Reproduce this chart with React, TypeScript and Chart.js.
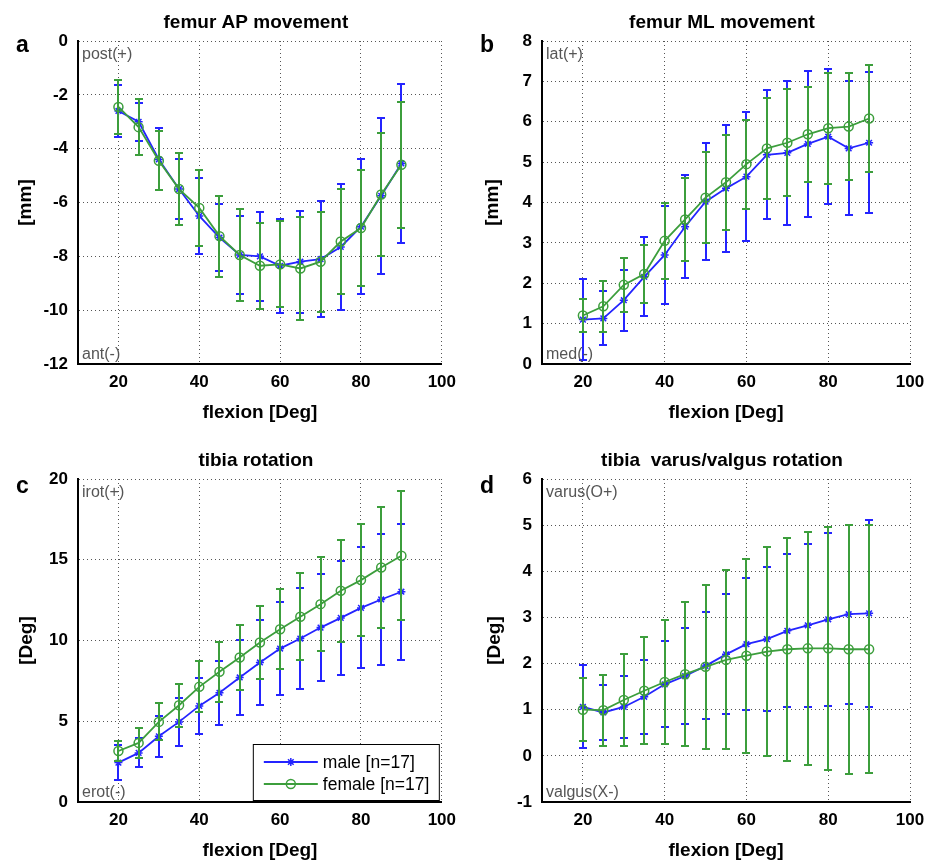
import React, { useEffect, useRef } from 'react';
import { Chart, registerables } from 'chart.js';

Chart.register(...registerables);

// ---------- data ----------
const FLEXION = [20, 25, 30, 35, 40, 45, 50, 55, 60, 65, 70, 75, 80, 85, 90];
const X_TICKS = [20, 40, 60, 80, 100];

const AP_TICKS = [-12, -10, -8, -6, -4, -2, 0];
const AP_MALE = [-2.6, -3.0, -4.4, -5.5, -6.5, -7.3, -7.95, -8.0, -8.35, -8.2, -8.1, -7.65, -6.9, -5.75, -4.55];
const AP_MALE_SD = [0.95, 0.7, 1.15, 1.1, 1.4, 1.25, 1.45, 1.65, 1.75, 1.9, 2.15, 2.35, 2.5, 2.9, 2.95];
const AP_FEMALE = [-2.45, -3.2, -4.45, -5.5, -6.2, -7.25, -7.95, -8.35, -8.3, -8.45, -8.2, -7.45, -6.95, -5.7, -4.6];
const AP_FEMALE_SD = [1.0, 1.05, 1.1, 1.35, 1.4, 1.5, 1.7, 1.6, 1.6, 1.9, 1.85, 1.95, 2.15, 2.3, 2.35];

const ML_TICKS = [0, 1, 2, 3, 4, 5, 6, 7, 8];
const ML_MALE = [1.1, 1.13, 1.58, 2.16, 2.7, 3.4, 4.02, 4.35, 4.64, 5.18, 5.23, 5.45, 5.63, 5.34, 5.48];
const ML_MALE_SD = [1.0, 0.67, 0.76, 0.98, 1.22, 1.28, 1.45, 1.57, 1.6, 1.6, 1.78, 1.8, 1.67, 1.66, 1.75];
const ML_FEMALE = [1.2, 1.43, 1.96, 2.23, 3.05, 3.58, 4.12, 4.5, 4.95, 5.34, 5.48, 5.69, 5.84, 5.88, 6.08];
const ML_FEMALE_SD = [0.4, 0.63, 0.66, 0.72, 0.95, 1.02, 1.12, 1.17, 1.1, 1.25, 1.32, 1.18, 1.37, 1.32, 1.33];

const ROT_TICKS = [0, 5, 10, 15, 20];
const ROT_MALE = [2.44, 3.04, 4.07, 4.96, 5.95, 6.76, 7.71, 8.64, 9.5, 10.12, 10.8, 11.4, 12.02, 12.54, 13.02];
const ROT_MALE_SD = [1.1, 0.9, 1.27, 1.5, 1.75, 2.0, 2.3, 2.65, 2.9, 3.1, 3.3, 3.55, 3.75, 4.05, 4.2];
const ROT_FEMALE = [3.16, 3.66, 4.96, 5.99, 7.13, 8.06, 8.95, 9.88, 10.7, 11.47, 12.25, 13.08, 13.74, 14.52, 15.25];
const ROT_FEMALE_SD = [0.6, 0.95, 1.15, 1.33, 1.58, 1.85, 2.03, 2.27, 2.48, 2.7, 2.92, 3.16, 3.49, 3.74, 4.0];

const VV_TICKS = [-1, 0, 1, 2, 3, 4, 5, 6];
const VV_MALE = [1.06, 0.94, 1.06, 1.28, 1.55, 1.73, 1.95, 2.2, 2.42, 2.53, 2.71, 2.83, 2.96, 3.07, 3.09];
const VV_MALE_SD = [0.9, 0.6, 0.68, 0.8, 0.93, 1.05, 1.16, 1.3, 1.43, 1.56, 1.66, 1.77, 1.88, 1.94, 2.03];
const VV_FEMALE = [1.0, 0.99, 1.21, 1.41, 1.6, 1.77, 1.93, 2.08, 2.17, 2.26, 2.31, 2.33, 2.33, 2.31, 2.31];
const VV_FEMALE_SD = [0.68, 0.77, 0.99, 1.16, 1.34, 1.56, 1.78, 1.94, 2.1, 2.26, 2.42, 2.53, 2.64, 2.7, 2.69];

const LEGEND_LABELS = ['male [n=17]', 'female [n=17]'];
const X_LABEL = 'flexion [Deg]';

// ---------- style ----------
const FONT = "'Liberation Sans', Arial, Helvetica, sans-serif";
const BLUE = '#2424ff';
const GREEN = '#3c9e3c';

type Spec = {
  letter: string; title: string; ylabel: string; yticks: number[];
  topNote: string; bottomNote: string;
  male: number[]; maleSd: number[]; female: number[]; femaleSd: number[];
  legend: boolean; left: number; top: number; width: number; height: number;
  yTitleX: number; letterDy: number;
};

const PANELS: Spec[] = [
  { letter: 'a', title: 'femur AP movement', ylabel: '[mm]', yticks: AP_TICKS, topNote: 'post(+)', bottomNote: 'ant(-)',
    male: AP_MALE, maleSd: AP_MALE_SD, female: AP_FEMALE, femaleSd: AP_FEMALE_SD, legend: false,
    left: 0, top: 0, width: 464, height: 438, yTitleX: 26, letterDy: 11 },
  { letter: 'b', title: 'femur ML movement', ylabel: '[mm]', yticks: ML_TICKS, topNote: 'lat(+)', bottomNote: 'med(-)',
    male: ML_MALE, maleSd: ML_MALE_SD, female: ML_FEMALE, femaleSd: ML_FEMALE_SD, legend: false,
    left: 464, top: 0, width: 470, height: 438, yTitleX: 29, letterDy: 11 },
  { letter: 'c', title: 'tibia rotation', ylabel: '[Deg]', yticks: ROT_TICKS, topNote: 'irot(+)', bottomNote: 'erot(-)',
    male: ROT_MALE, maleSd: ROT_MALE_SD, female: ROT_FEMALE, femaleSd: ROT_FEMALE_SD, legend: true,
    left: 0, top: 438, width: 464, height: 424, yTitleX: 27, letterDy: 14 },
  { letter: 'd', title: 'tibia  varus/valgus rotation', ylabel: '[Deg]', yticks: VV_TICKS, topNote: 'varus(O+)', bottomNote: 'valgus(X-)',
    male: VV_MALE, maleSd: VV_MALE_SD, female: VV_FEMALE, femaleSd: VV_FEMALE_SD, legend: false,
    left: 464, top: 438, width: 470, height: 424, yTitleX: 31, letterDy: 14 },
];

const CA_LEFT = 78, CA_TOP = 41, CA_RIGHT = 446, CA_BOTTOM = 364, X_AXIS_H = 60;

const errorBars = {
  id: 'errorBars',
  beforeDatasetDraw(chart: any, args: any) {
    const ds = chart.data.datasets[args.index];
    const sd: number[] = ds.sd;
    if (!sd) return;
    const ctx = chart.ctx;
    const xs = chart.scales.x, ys = chart.scales.y;
    ctx.save();
    ctx.strokeStyle = ds.borderColor;
    ctx.lineWidth = 2;
    ds.data.forEach((p: any, i: number) => {
      const px = Math.round(xs.getPixelForValue(p.x));
      const t = Math.round(ys.getPixelForValue(p.y + sd[i]));
      const b = Math.round(ys.getPixelForValue(p.y - sd[i]));
      ctx.beginPath();
      ctx.moveTo(px, t); ctx.lineTo(px, b);
      ctx.moveTo(px - 4, t); ctx.lineTo(px + 4, t);
      ctx.moveTo(px - 4, b); ctx.lineTo(px + 4, b);
      ctx.stroke();
    });
    ctx.restore();
  },
};

function makeDecor(spec: Spec) {
  return {
    id: 'decor',
    afterDraw(chart: any) {
      const ctx = chart.ctx;
      const ca = chart.chartArea;
      ctx.save();
      // title
      ctx.fillStyle = '#000';
      ctx.font = `bold 19px ${FONT}`;
      ctx.textAlign = 'center';
      ctx.textBaseline = 'alphabetic';
      ctx.fillText(spec.title, (ca.left + ca.right) / 2 - 4, 28);
      // letter
      ctx.font = `bold 23px ${FONT}`;
      ctx.textAlign = 'left';
      ctx.fillText(spec.letter, 16, ca.top + spec.letterDy);
      // notes
      ctx.font = `16px ${FONT}`;
      ctx.fillStyle = '#555';
      ctx.fillText(spec.topNote, ca.left + 4, ca.top + 18);
      ctx.fillText(spec.bottomNote, ca.left + 4, ca.bottom - 5);
      // legend
      if (spec.legend) {
        const w = 187, h = 57;
        const r = ca.right - 2, b = ca.bottom - 1;
        const l = r - w, t = b - h;
        ctx.fillStyle = '#fff';
        ctx.fillRect(l, t, w, h);
        ctx.strokeStyle = '#000';
        ctx.lineWidth = 1;
        ctx.strokeRect(l + 0.5, t + 0.5, w - 1, h - 1);
        const rows = [t + 18, t + 40];
        const colors = [BLUE, GREEN];
        rows.forEach((y, i) => {
          ctx.strokeStyle = colors[i];
          ctx.lineWidth = 1.8;
          ctx.beginPath();
          ctx.moveTo(l + 11, y); ctx.lineTo(l + 65, y);
          ctx.stroke();
          const mx = l + 38;
          ctx.lineWidth = 1.5;
          ctx.beginPath();
          if (i === 0) {
            const rr = 4;
            ctx.moveTo(mx - rr, y); ctx.lineTo(mx + rr, y);
            ctx.moveTo(mx, y - rr); ctx.lineTo(mx, y + rr);
            const d = rr * 0.707;
            ctx.moveTo(mx - d, y - d); ctx.lineTo(mx + d, y + d);
            ctx.moveTo(mx - d, y + d); ctx.lineTo(mx + d, y - d);
          } else {
            ctx.arc(mx, y, 4.5, 0, Math.PI * 2);
          }
          ctx.stroke();
          ctx.fillStyle = '#000';
          ctx.font = `17.5px ${FONT}`;
          ctx.textBaseline = 'middle';
          ctx.fillText(LEGEND_LABELS[i], l + 70, y + 1);
        });
      }
      ctx.restore();
    },
  };
}

function makeChart(canvas: HTMLCanvasElement, spec: Spec) {
  const pts = (vals: number[]) => FLEXION.map((x, i) => ({ x, y: vals[i] }));
  const tickFont = { family: FONT, weight: 'bold' as const, size: 17 };
  const titleFont = { family: FONT, weight: 'bold' as const, size: 19 };
  const yMin = spec.yticks[0], yMax = spec.yticks[spec.yticks.length - 1];
  return new Chart(canvas, {
    type: 'line',
    data: {
      datasets: [
        {
          label: LEGEND_LABELS[0], data: pts(spec.male), sd: spec.maleSd,
          borderColor: BLUE, backgroundColor: BLUE, borderWidth: 1.8,
          pointStyle: 'star', pointRadius: 4, pointBorderWidth: 1.5, pointBorderColor: BLUE,
          tension: 0, order: 2,
        } as any,
        {
          label: LEGEND_LABELS[1], data: pts(spec.female), sd: spec.femaleSd,
          borderColor: GREEN, backgroundColor: 'rgba(0,0,0,0)', borderWidth: 1.8,
          pointStyle: 'circle', pointRadius: 4.5, pointBorderWidth: 1.5, pointBorderColor: GREEN,
          pointBackgroundColor: 'rgba(0,0,0,0)',
          tension: 0, order: 1,
        } as any,
      ],
    },
    options: {
      responsive: false,
      animation: false,
      events: [],
      layout: {
        padding: {
          top: CA_TOP, left: 0, right: spec.width - CA_RIGHT,
          bottom: spec.height - CA_BOTTOM - X_AXIS_H,
        },
      },
      plugins: { legend: { display: false }, title: { display: false }, tooltip: { enabled: false } },
      scales: {
        x: {
          type: 'linear', min: 10, max: 100,
          afterBuildTicks: (s: any) => { s.ticks = X_TICKS.map((v) => ({ value: v })); },
          afterFit: (s: any) => { s.height = X_AXIS_H; },
          ticks: { font: tickFont, color: '#000', padding: 8, maxRotation: 0, autoSkip: false },
          grid: { color: '#555', lineWidth: 1, drawTicks: false },
          border: { display: true, color: '#000', width: 2, dash: [1, 3] },
          title: { display: true, text: X_LABEL, font: titleFont, color: '#000', padding: { top: 0, bottom: 0 } },
        },
        y: {
          type: 'linear', min: yMin, max: yMax,
          afterBuildTicks: (s: any) => { s.ticks = spec.yticks.map((v) => ({ value: v })); },
          afterFit: (s: any) => { s.width = CA_LEFT; },
          ticks: { font: tickFont, color: '#000', padding: 10, autoSkip: false },
          grid: { color: '#555', lineWidth: 1, drawTicks: false },
          border: { display: true, color: '#000', width: 2, dash: [1, 3] },
          title: {
            display: true, text: spec.ylabel, font: titleFont, color: '#000',
            padding: { top: spec.yTitleX - 11.4, bottom: 0 },
          },
        },
      },
    } as any,
    plugins: [errorBars, makeDecor(spec)],
  });
}

function Panel({ spec }: { spec: Spec }) {
  const ref = useRef<HTMLCanvasElement>(null);
  useEffect(() => {
    if (!ref.current) return;
    const chart = makeChart(ref.current, spec);
    return () => chart.destroy();
  }, [spec]);
  return (
    <canvas
      ref={ref}
      width={spec.width}
      height={spec.height}
      style={{ position: 'absolute', left: spec.left, top: spec.top, width: spec.width, height: spec.height }}
    />
  );
}

export default function App() {
  return (
    <div style={{ position: 'fixed', left: 0, top: 0, width: 934, height: 862, background: '#fff' }}>
      {PANELS.map((p) => (
        <Panel key={p.letter} spec={p} />
      ))}
    </div>
  );
}
